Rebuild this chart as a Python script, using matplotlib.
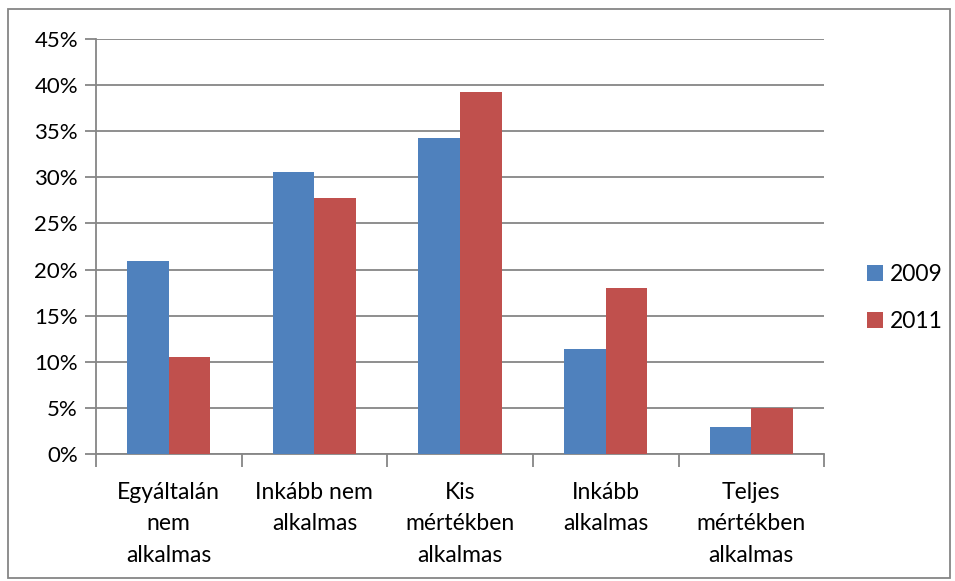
import matplotlib.pyplot as plt
import numpy as np
from matplotlib.patches import Rectangle

plt.rcParams['font.family'] = ['Lato', 'DejaVu Sans']

categories = ['Egyáltalán\nnem\nalkalmas', 'Inkább nem\nalkalmas', 'Kis\nmértékben\nalkalmas',
              'Inkább\nalkalmas', 'Teljes\nmértékben\nalkalmas']
series_names = ['2009', '2011']
values_2009 = [20.9, 30.6, 34.3, 11.4, 2.9]
values_2011 = [10.5, 27.7, 39.2, 18.0, 5.0]
yticks = [0, 5, 10, 15, 20, 25, 30, 35, 40, 45]

blue = '#4F81BD'
red = '#C0504D'
grey = '#868686'

fig = plt.figure(figsize=(9.55, 5.81), dpi=100)
ax = fig.add_axes([0.1005, 0.2186, 0.7625, 0.7144])

x = np.arange(len(categories))
w = 0.286
ax.bar(x - w / 2, values_2009, w, color=blue, label=series_names[0], zorder=3)
ax.bar(x + w / 2, values_2011, w, color=red, label=series_names[1], zorder=3)

ax.set_xlim(-0.5, len(categories) - 0.5)
ax.set_ylim(0, 45)
ax.set_yticks(yticks)
ax.set_yticklabels([f'{t}%' for t in yticks], fontsize=16)
ax.yaxis.grid(True, color=grey, linewidth=1.3, zorder=0)

ax.set_xticks(np.arange(len(categories) + 1) - 0.5)
ax.set_xticklabels([])
ax.set_xticks(x, minor=True)
ax.set_xticklabels(categories, minor=True, fontsize=16.5, linespacing=1.62)
ax.tick_params(axis='x', which='minor', length=0, pad=20)
ax.tick_params(axis='x', which='major', length=9, width=1.3, color=grey)
ax.tick_params(axis='y', length=8, width=1.3, color=grey, pad=5)

for s in ['top', 'right']:
    ax.spines[s].set_visible(False)
for s in ['left', 'bottom']:
    ax.spines[s].set_color(grey)
    ax.spines[s].set_linewidth(1.3)

leg = fig.legend(loc='center left', bbox_to_anchor=(867 / 955, 0.487), frameon=False, fontsize=16.5,
                 handlelength=0.7, handleheight=0.7, handletextpad=0.3, labelspacing=1.1,
                 borderpad=0, borderaxespad=0)

fig.patches.append(Rectangle((8 / 955, 3 / 581), 942 / 955, 569 / 581, transform=fig.transFigure,
                             fill=False, edgecolor=grey, linewidth=1.3))

fig.savefig('out.png', dpi=100)
